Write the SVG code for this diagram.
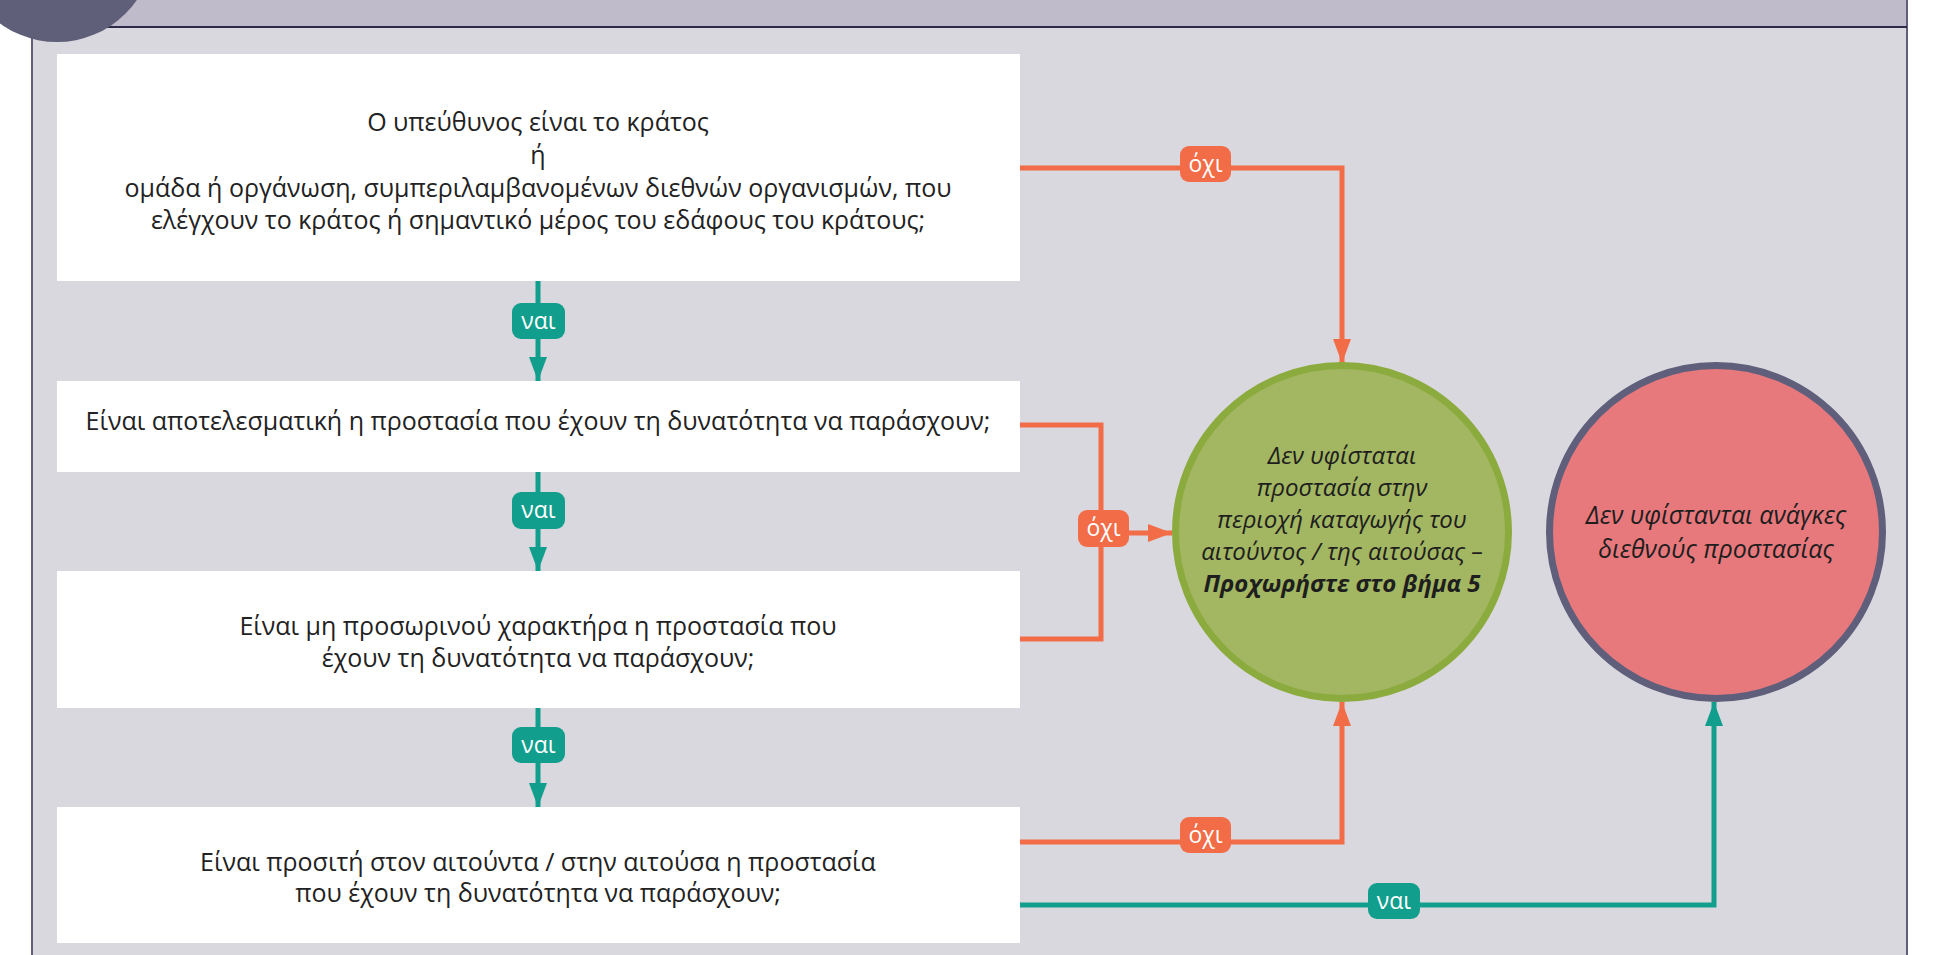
<svg xmlns="http://www.w3.org/2000/svg" width="1941" height="955" viewBox="0 0 1941 955">
<style>
.box{fill:#ffffff}
.bt{font-family:"Open Sans","Noto Sans",sans-serif;font-size:25px;fill:#222222;text-anchor:middle}
.ct{font-family:"Open Sans","Noto Sans",sans-serif;font-size:24px;font-style:italic;fill:#1e1e1e;text-anchor:middle}
.ct2{font-size:25px}
.bold{font-weight:bold}
.or{stroke:#f26c47;stroke-width:5;fill:none}
.te{stroke:#129e8d;stroke-width:5;fill:none}
.bo{fill:#f26c47}
.btl{fill:#129e8d}
.lt{font-family:"Open Sans","Noto Sans",sans-serif;font-size:23px;fill:#ffffff;text-anchor:middle}
</style>
<defs>
<marker id="ao" markerUnits="userSpaceOnUse" markerWidth="24" markerHeight="20" refX="24" refY="10" orient="auto"><path d="M0,1 L24,10 L0,19 z" fill="#f26c47"/></marker>
<marker id="at" markerUnits="userSpaceOnUse" markerWidth="24" markerHeight="20" refX="24" refY="10" orient="auto"><path d="M0,1 L24,10 L0,19 z" fill="#129e8d"/></marker>
</defs>
<rect x="0" y="0" width="1941" height="955" fill="#ffffff"/>
<g id="frame">
<rect x="32" y="-5" width="1875" height="975" fill="#d9d8de" stroke="#5f5f7a" stroke-width="2"/>
<rect x="32" y="-5" width="1875" height="32" fill="#bfbbca" stroke="#5f5f7a" stroke-width="2"/>
<line x1="32" y1="27" x2="1907" y2="27" stroke="#2e2a48" stroke-width="2"/>
<circle cx="57" cy="-55" r="97" fill="#5f5f7a"/>
</g>
<g id="connectors">
<path class="te" d="M538,281 V381" marker-end="url(#at)"/>
<path class="te" d="M538,472 V571" marker-end="url(#at)"/>
<path class="te" d="M538,708 V807" marker-end="url(#at)"/>
<path class="or" d="M1020,168 H1342 V363" marker-end="url(#ao)"/>
<path class="or" d="M1020,425 H1101 V639 H1020"/>
<path class="or" d="M1101,533 H1172" marker-end="url(#ao)"/>
<path class="or" d="M1020,842 H1342 V702" marker-end="url(#ao)"/>
<path class="te" d="M1020,905 H1714 V702" marker-end="url(#at)"/>
<rect class="btl" x="512" y="303" width="53" height="36" rx="9"/>
<text class="lt" x="538.5" y="329">ναι</text>
<rect class="btl" x="512" y="492" width="53" height="37" rx="9"/>
<text class="lt" x="538.5" y="518">ναι</text>
<rect class="btl" x="512" y="727" width="53" height="36" rx="9"/>
<text class="lt" x="538.5" y="753">ναι</text>
<rect class="bo" x="1180" y="146" width="51" height="36" rx="9"/>
<text class="lt" x="1205.5" y="172">όχι</text>
<rect class="bo" x="1078" y="510" width="51" height="37" rx="9"/>
<text class="lt" x="1103.5" y="536">όχι</text>
<rect class="bo" x="1180" y="817" width="51" height="36" rx="9"/>
<text class="lt" x="1205.5" y="843">όχι</text>
<rect class="btl" x="1368" y="883" width="52" height="36" rx="9"/>
<text class="lt" x="1394" y="909">ναι</text>
</g>
<g id="node1">
<rect class="box" x="57" y="54" width="963" height="227"/>
<text class="bt" x="538" y="131">Ο υπεύθυνος είναι το κράτος</text>
<text class="bt" x="538" y="164">ή</text>
<text class="bt" x="538" y="197">ομάδα ή οργάνωση, συμπεριλαμβανομένων διεθνών οργανισμών, που</text>
<text class="bt" x="538" y="229">ελέγχουν το κράτος ή σημαντικό μέρος του εδάφους του κράτους;</text>
</g>
<g id="node2">
<rect class="box" x="57" y="381" width="963" height="91"/>
<text class="bt" x="538" y="430">Είναι αποτελεσματική η προστασία που έχουν τη δυνατότητα να παράσχουν;</text>
</g>
<g id="node3">
<rect class="box" x="57" y="571" width="963" height="137"/>
<text class="bt" x="538" y="635">Είναι μη προσωρινού χαρακτήρα η προστασία που</text>
<text class="bt" x="538" y="667">έχουν τη δυνατότητα να παράσχουν;</text>
</g>
<g id="node4">
<rect class="box" x="57" y="807" width="963" height="136"/>
<text class="bt" x="538" y="871">Είναι προσιτή στον αιτούντα / στην αιτούσα η προστασία</text>
<text class="bt" x="538" y="902">που έχουν τη δυνατότητα να παράσχουν;</text>
</g>
<g id="outcome-green">
<circle cx="1342" cy="532" r="166.5" fill="#a3b662" stroke="#8cab3e" stroke-width="7"/>
<text class="ct" x="1342" y="464">Δεν υφίσταται</text>
<text class="ct" x="1342" y="496">προστασία στην</text>
<text class="ct" x="1342" y="528">περιοχή καταγωγής του</text>
<text class="ct" x="1342" y="560">αιτούντος / της αιτούσας –</text>
<text class="ct bold" x="1342" y="592">Προχωρήστε στο βήμα 5</text>
</g>
<g id="outcome-red">
<circle cx="1716" cy="532" r="166.5" fill="#e7797d" stroke="#5f5f7b" stroke-width="7"/>
<text class="ct ct2" x="1716" y="524">Δεν υφίστανται ανάγκες</text>
<text class="ct ct2" x="1716" y="558">διεθνούς προστασίας</text>
</g>
</svg>
